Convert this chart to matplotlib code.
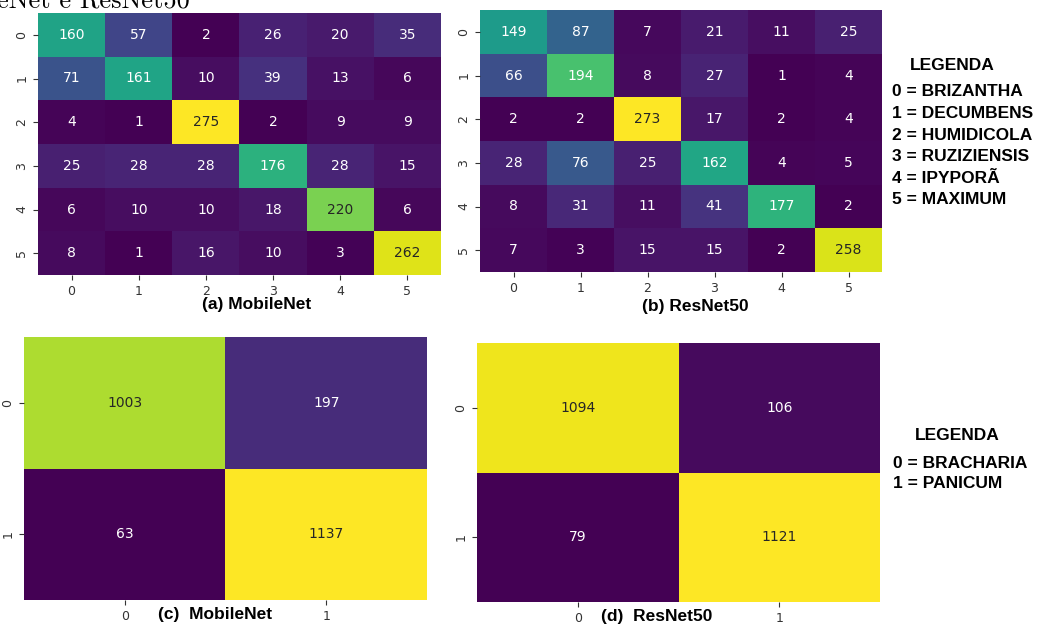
import matplotlib
matplotlib.use('Agg')
import matplotlib.pyplot as plt
import seaborn as sns
import numpy as np

# confusion matrices, 6 species
species_ticks = ['0', '1', '2', '3', '4', '5']
mobilenet_6 = np.array([[160, 57, 2, 26, 20, 35],
                        [71, 161, 10, 39, 13, 6],
                        [4, 1, 275, 2, 9, 9],
                        [25, 28, 28, 176, 28, 15],
                        [6, 10, 10, 18, 220, 6],
                        [8, 1, 16, 10, 3, 262]])
resnet_6 = np.array([[149, 87, 7, 21, 11, 25],
                     [66, 194, 8, 27, 1, 4],
                     [2, 2, 273, 17, 2, 4],
                     [28, 76, 25, 162, 4, 5],
                     [8, 31, 11, 41, 177, 2],
                     [7, 3, 15, 15, 2, 258]])

# confusion matrices, 2 genera
genus_ticks = ['0', '1']
mobilenet_2 = np.array([[1003, 197],
                        [63, 1137]])
resnet_2 = np.array([[1094, 106],
                     [79, 1121]])

species_legend = ['0 = BRIZANTHA', '1 = DECUMBENS', '2 = HUMIDICOLA',
                  '3 = RUZIZIENSIS', '4 = IPYPORÃ', '5 = MAXIMUM']
genus_legend = ['0 = BRACHARIA', '1 = PANICUM']

W, H = 1038, 624
fig = plt.figure(figsize=(W / 100, H / 100), dpi=100)


def px_axes(left, top, right, bottom):
    return fig.add_axes([left / W, 1 - bottom / H, (right - left) / W, (bottom - top) / H])


def draw(ax, mat, ticks):
    sns.heatmap(mat, ax=ax, cmap='viridis', annot=True, fmt='d', cbar=False,
                xticklabels=ticks, yticklabels=ticks, annot_kws={'fontsize': 10})
    ax.tick_params(labelsize=9, colors='#333333')
    for t in ax.get_yticklabels():
        t.set_rotation(90)
        t.set_va('center')


ax_a = px_axes(38, 13, 441, 275)
draw(ax_a, mobilenet_6, species_ticks)
ax_b = px_axes(480, 10, 882, 272)
draw(ax_b, resnet_6, species_ticks)
ax_c = px_axes(24, 337, 427, 600)
draw(ax_c, mobilenet_2, genus_ticks)
ax_d = px_axes(477, 343, 880, 602)
draw(ax_d, resnet_2, genus_ticks)

cap = dict(fontsize=12.5, fontweight='bold', family='Liberation Sans',
           ha='center', va='center')
fig.text(257 / W, 1 - 305 / H, '(a) MobileNet', **cap)
fig.text(695 / W, 1 - 307 / H, '(b) ResNet50', **cap)
fig.text(215 / W, 1 - 614 / H, '(c)  MobileNet', **cap)
fig.text(657 / W, 1 - 617 / H, '(d)  ResNet50', **cap)

# cut-off heading from the page
fig.text(-3 / W, 1 - 7 / H, 'eNet e ResNet50', fontsize=19,
         family='cmr10', ha='left', va='baseline')

leg = dict(fontsize=12.5, fontweight='bold', family='Liberation Sans', va='center')
fig.text(952 / W, 1 - 65 / H, 'LEGENDA', ha='center', **leg)
for i, s in enumerate(species_legend):
    fig.text(892 / W, 1 - (92 + i * 21.6) / H, s, ha='left', **leg)
fig.text(957 / W, 1 - 435 / H, 'LEGENDA', ha='center', **leg)
for i, s in enumerate(genus_legend):
    fig.text(893 / W, 1 - (463 + i * 21) / H, s, ha='left', **leg)

fig.savefig('out.png', dpi=100)
